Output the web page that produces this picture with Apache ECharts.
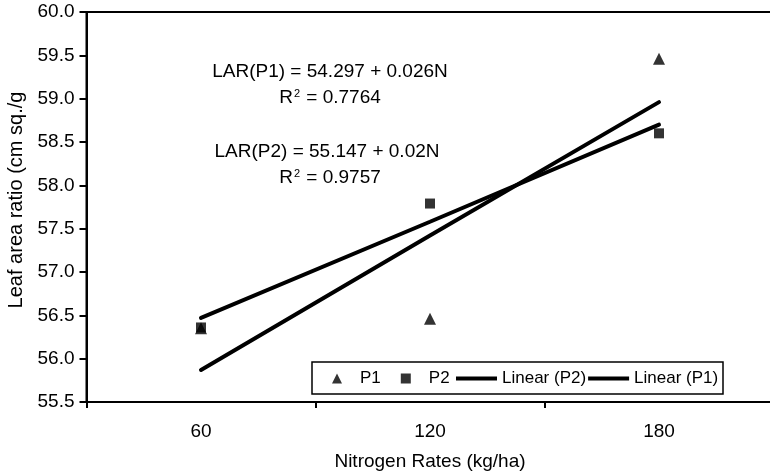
<!DOCTYPE html>
<html>
<head>
<meta charset="utf-8">
<script src="https://cdn.jsdelivr.net/npm/echarts@6/dist/echarts.min.js"></script>
<style>
  html, body { margin: 0; padding: 0; background: #fff; }
  #chart { width: 770px; height: 476px; }
</style>
</head>
<body>
<div id="chart"></div>
<script>
// values
const nitrogenRates = ['60', '120', '180'];
const p1Values = [56.35, 56.46, 59.46];
const p2Values = [56.36, 57.79, 58.60];
const linearP2 = [56.47, 57.58, 58.70];
const linearP1 = [55.87, 57.42, 58.96];
const yTicks = { min: 55.5, max: 60.0, step: 0.5 };

const FONT = '"Liberation Sans", Arial, sans-serif';

const chart = echarts.init(document.getElementById('chart'));

const lineSeries = (name, data) => ({
  name,
  type: 'line',
  data,
  symbol: 'none',
  lineStyle: { color: '#000', width: 4, cap: 'round' },
  itemStyle: { color: '#000' },
  z: 3,
});

// legend text style shared by both legend parts
const legendText = { fontSize: 17, color: '#000', fontFamily: FONT };

const option = {
  backgroundColor: '#fff',
  animation: false,
  textStyle: { fontFamily: FONT, color: '#000' },
  grid: {
    left: 86.5,
    top: 12,
    width: 687,
    height: 390,
    outerBoundsMode: 'none',
    show: true,
    borderColor: '#000',
    borderWidth: 2,
    backgroundColor: 'transparent',
  },
  legend: [
    {
      left: 332,
      top: 370,
      padding: 0,
      itemWidth: 36,
      itemHeight: 10,
      itemGap: 20,
      symbolKeepAspect: true,
      textStyle: legendText,
      z: 6,
      data: [
        { name: 'P1', icon: 'path://M5,0 L10,10 L0,10 Z' },
        { name: 'P2', icon: 'path://M0,0 L10,0 L10,10 L0,10 Z' },
      ],
    },
    {
      left: 456,
      top: 370,
      padding: 0,
      itemWidth: 41,
      itemHeight: 4,
      itemGap: 2,
      icon: 'rect',
      textStyle: legendText,
      z: 6,
      data: ['Linear (P2)', 'Linear (P1)'],
    },
  ],
  xAxis: {
    type: 'category',
    data: nitrogenRates,
    boundaryGap: true,
    name: 'Nitrogen Rates (kg/ha)',
    nameLocation: 'middle',
    nameGap: 50,
    nameTextStyle: { fontSize: 19, color: '#000', fontFamily: FONT },
    axisLine: { lineStyle: { color: '#000', width: 2 } },
    axisTick: { show: true, length: 6, interval: 0, lineStyle: { color: '#000', width: 2 } },
    axisLabel: { fontSize: 19, color: '#000', margin: 20, fontFamily: FONT },
    splitLine: { show: false },
  },
  yAxis: {
    type: 'value',
    min: yTicks.min,
    max: yTicks.max,
    interval: yTicks.step,
    name: 'Leaf area ratio (cm sq./g',
    nameLocation: 'middle',
    nameGap: 57,
    nameTextStyle: { fontSize: 20, color: '#000', fontFamily: FONT, padding: [0, 0, 0, 14] },
    axisLine: { show: true, lineStyle: { color: '#000', width: 2 } },
    axisTick: { show: true, length: 7, lineStyle: { color: '#000', width: 2 } },
    axisLabel: {
      fontSize: 19,
      color: '#000',
      margin: 12,
      fontFamily: FONT,
      formatter: (v) => v.toFixed(1),
    },
    splitLine: { show: false },
  },
  graphic: [
    {
      // legend frame
      type: 'rect', z: 5,
      shape: { x: 312, y: 362, width: 411, height: 32 },
      style: { fill: '#fff', stroke: '#000', lineWidth: 1.5 },
    },
    {
      type: 'text', x: 330, y: 72,
      style: { text: 'LAR(P1) = 54.297 + 0.026N', fontSize: 19, fontFamily: FONT, fill: '#000', align: 'center', verticalAlign: 'middle' },
    },
    {
      type: 'text', x: 330, y: 98,
      style: {
        text: 'R{sup|2} = 0.7764', fontSize: 19, fontFamily: FONT, fill: '#000', align: 'center', verticalAlign: 'middle',
        rich: { sup: { fontSize: 11, fontFamily: FONT, verticalAlign: 'top', padding: [0, 1, 0, 1] } },
      },
    },
    {
      type: 'text', x: 327, y: 152,
      style: { text: 'LAR(P2) = 55.147 + 0.02N', fontSize: 19, fontFamily: FONT, fill: '#000', align: 'center', verticalAlign: 'middle' },
    },
    {
      type: 'text', x: 330, y: 178,
      style: {
        text: 'R{sup|2} = 0.9757', fontSize: 19, fontFamily: FONT, fill: '#000', align: 'center', verticalAlign: 'middle',
        rich: { sup: { fontSize: 11, fontFamily: FONT, verticalAlign: 'top', padding: [0, 1, 0, 1] } },
      },
    },
  ],
  series: [
    {
      name: 'P1',
      type: 'scatter',
      data: p1Values,
      symbol: 'triangle',
      symbolSize: 12,
      itemStyle: { color: '#000' },
      z: 2,
    },
    {
      name: 'P2',
      type: 'scatter',
      data: p2Values,
      symbol: 'rect',
      symbolSize: 10,
      itemStyle: { color: '#000' },
      z: 2,
    },
    lineSeries('Linear (P2)', linearP2),
    lineSeries('Linear (P1)', linearP1),
  ],
};

chart.setOption(option);
</script>
</body>
</html>
